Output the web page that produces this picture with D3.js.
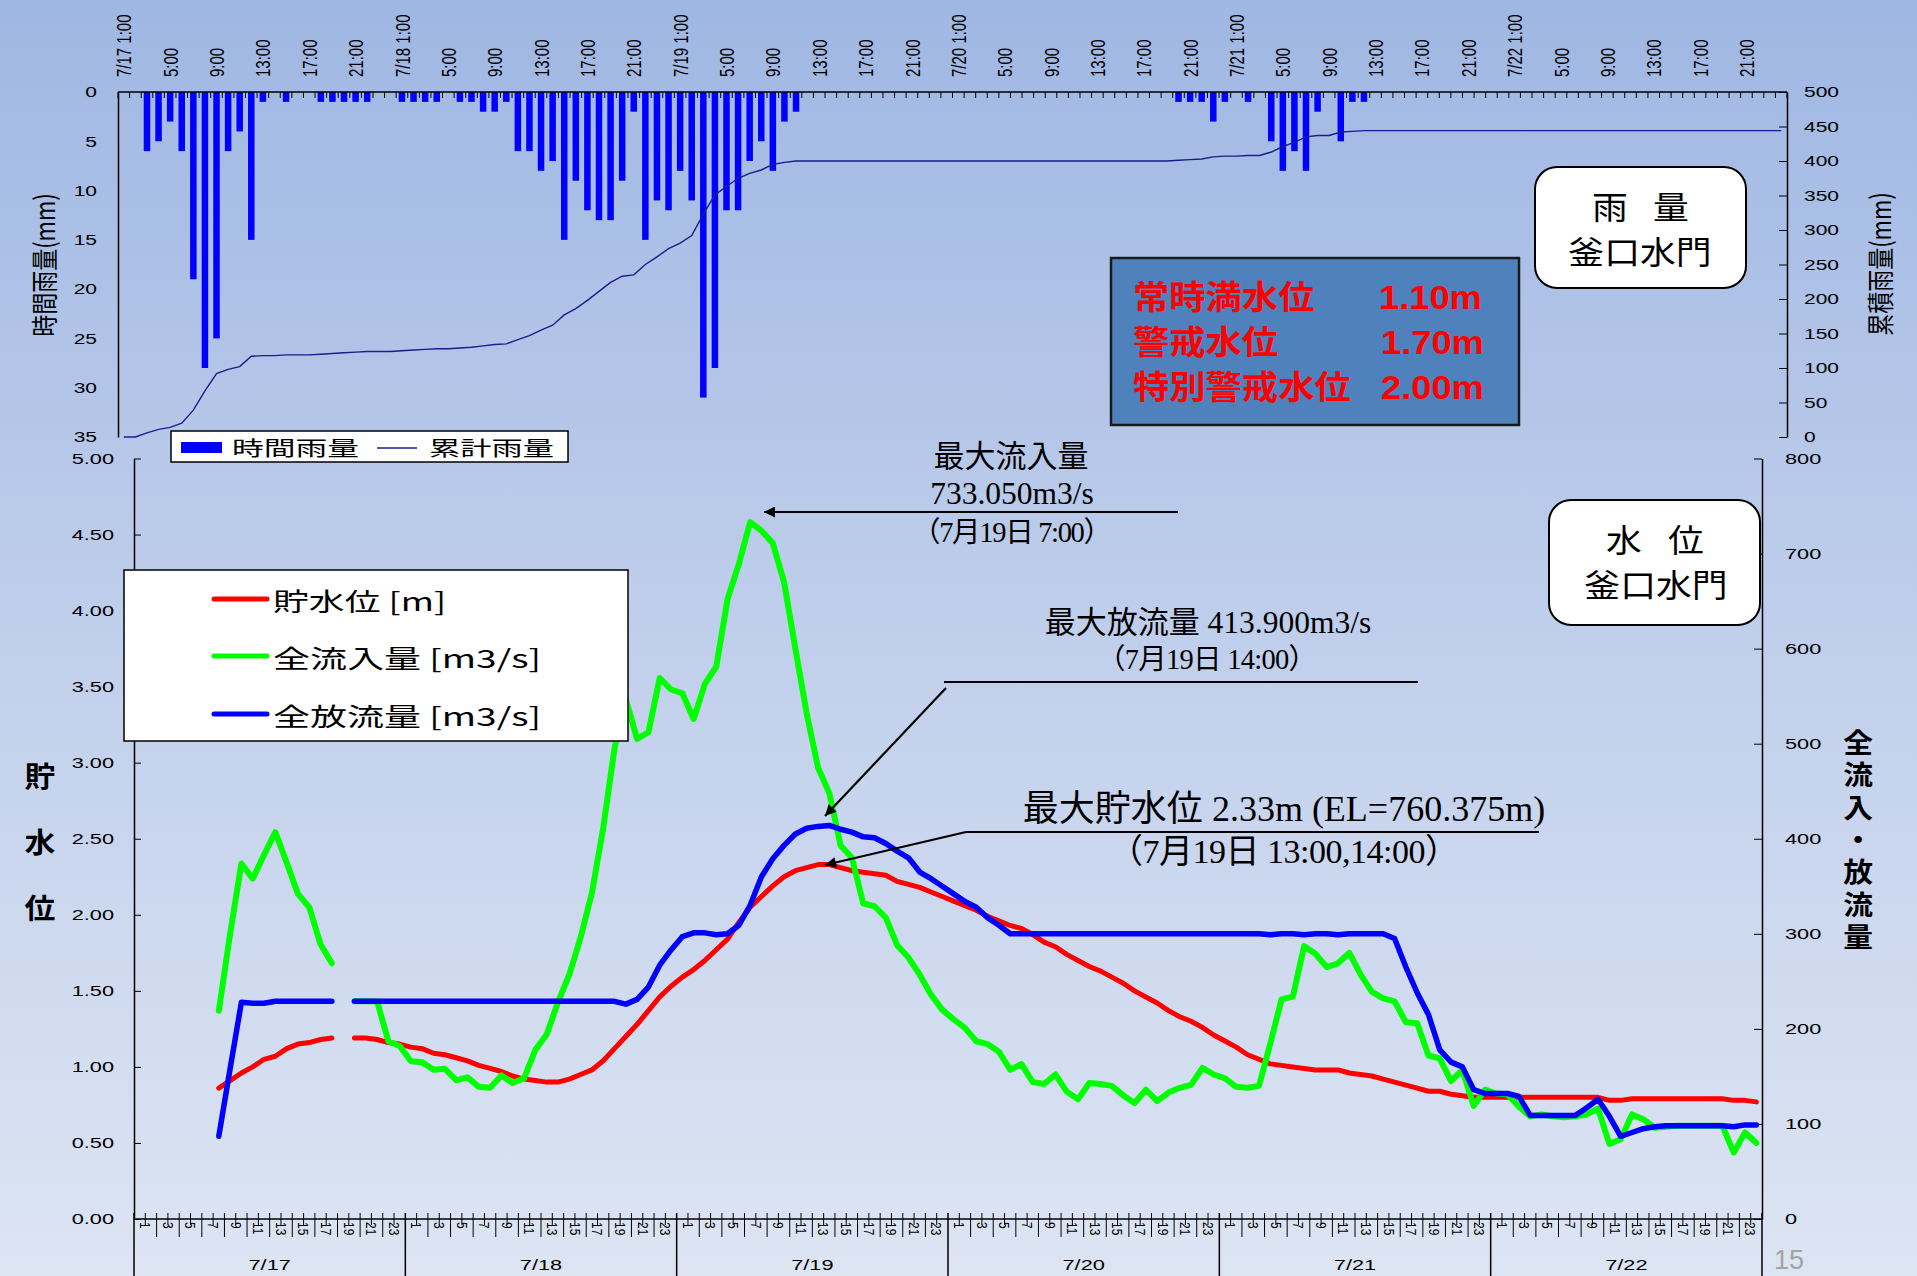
<!DOCTYPE html>
<html>
<head>
<meta charset="utf-8">
<script src="https://cdn.jsdelivr.net/npm/d3@7"></script>
<style>
body { margin: 0; overflow: hidden; }
</style>
</head>
<body>
<div id="chart"></div>
<script>
// svg size
var width = 1917, height = 1276;

// fonts
var JP = "'Noto Sans CJK JP', sans-serif";
var LAT = "'Liberation Sans', Arial, sans-serif";
var SER = "'Liberation Serif', 'Times New Roman', serif";

// hourly data, 7/17 1:00 ... 7/22 24:00 (144 hours)
var days = ["7/17", "7/18", "7/19", "7/20", "7/21", "7/22"];

// 時間雨量 (mm)
var rain = [0,0,6,5,3,6,19,28,25,6,4,15,1,0,1,0,0,1,1,1,1,1,0,0,
            1,1,1,1,0,1,1,2,2,1,6,6,8,7,15,9,12,13,13,9,2,15,11,12,
            8,11,31,28,12,12,7,5,8,3,2,0,0,0,0,0,0,0,0,0,0,0,0,0,
            0,0,0,0,0,0,0,0,0,0,0,0,0,0,0,0,0,0,0,1,1,1,3,1,
            0,1,0,5,8,6,8,2,0,5,1,1,0,0,0,0,0,0,0,0,0,0,0,0,
            0,0,0,0,0,0,0,0,0,0,0,0,0,0,0,0,0,0,0,0,0,0,0,0];

// 累計雨量 (mm)
var rain_total = [0,0,6,11,14,20,39,67,92,98,102,117,118,118,119,119,119,120,121,122,123,124,124,124,
                  125,126,127,128,128,129,130,132,134,135,141,147,155,162,177,186,198,211,224,233,235,250,261,273,
                  281,292,323,351,363,375,382,387,395,398,400,400,400,400,400,400,400,400,400,400,400,400,400,400,
                  400,400,400,400,400,400,400,400,400,400,400,400,400,400,400,400,400,400,400,401,402,403,406,407,
                  407,408,408,413,421,427,435,437,437,442,443,444,444,444,444,444,444,444,444,444,444,444,444,444,
                  444,444,444,444,444,444,444,444,444,444,444,444,444,444,444,444,444,444,444,444,444,444,444,444];

// 貯水位 (m)
var level = [null,null,null,null,null,null,null,0.86,0.91,0.96,1.00,1.05,1.07,1.12,1.15,1.16,1.18,1.19,null,1.19,1.19,1.18,1.16,1.15,
             1.13,1.12,1.09,1.08,1.06,1.04,1.01,0.99,0.97,0.94,0.92,0.91,0.90,0.90,0.92,0.95,0.98,1.04,1.12,1.20,1.28,1.37,1.46,1.53,
             1.59,1.64,1.70,1.77,1.84,1.95,2.05,2.12,2.19,2.25,2.29,2.31,2.33,2.33,2.31,2.29,2.28,2.27,2.26,2.22,2.20,2.18,2.15,2.12,
             2.09,2.06,2.03,1.99,1.96,1.93,1.91,1.87,1.82,1.79,1.74,1.70,1.66,1.63,1.59,1.55,1.50,1.46,1.42,1.37,1.33,1.30,1.26,1.21,
             1.17,1.13,1.08,1.05,1.02,1.01,1.00,0.99,0.98,0.98,0.98,0.96,0.95,0.94,0.92,0.90,0.88,0.86,0.84,0.84,0.82,0.81,0.80,0.80,
             0.80,0.80,0.80,0.80,0.80,0.80,0.80,0.80,0.80,0.80,0.78,0.78,0.79,0.79,0.79,0.79,0.79,0.79,0.79,0.79,0.79,0.78,0.78,0.77];

// 全流入量 (m3/s)
var inflow = [null,null,null,null,null,null,null,219,300,374,358,383,407,375,342,328,289,269,null,229,229,229,187,182,
              166,165,157,158,146,149,139,138,151,143,148,178,194,228,257,296,343,411,495,547,505,512,569,557,
              553,526,563,581,652,689,733,724,711,670,600,532,475,448,393,380,332,329,317,288,275,257,236,220,
              210,201,187,184,176,157,163,144,142,152,134,126,143,142,140,130,122,136,124,133,138,141,159,152,
              148,139,138,140,184,231,234,287,279,265,269,280,257,239,232,229,207,206,172,169,145,157,119,136,
              132,131,118,108,110,108,107,108,110,116,79,84,110,105,96,97,98,98,98,98,98,70,91,80];

// 全放流量 (m3/s)
var outflow = [null,null,null,null,null,null,null,87,158,228,227,227,229,229,229,229,229,229,null,229,229,229,229,229,
               229,229,229,229,229,229,229,229,229,229,229,229,229,229,229,229,229,229,229,226,231,244,267,283,
               297,301,301,299,300,309,330,360,379,393,405,411,413,414,410,407,402,401,395,387,380,365,358,350,
               342,334,328,317,309,300,300,300,300,300,300,300,300,300,300,300,300,300,300,300,300,300,300,300,
               300,300,300,300,299,300,300,299,300,300,299,300,300,300,300,295,265,238,215,178,165,160,136,132,
               132,132,129,109,109,109,109,109,117,126,108,87,91,95,97,98,98,98,98,98,98,97,99,99];

// tick values
var rain_ticks = [0, 5, 10, 15, 20, 25, 30, 35];
var total_ticks = [0, 50, 100, 150, 200, 250, 300, 350, 400, 450, 500];
var level_ticks = [0, 0.5, 1, 1.5, 2, 2.5, 3, 3.5, 4, 4.5, 5];
var flow_ticks = [0, 100, 200, 300, 400, 500, 600, 700, 800];
var hour_labels = [1, 3, 5, 7, 9, 11, 13, 15, 17, 19, 21, 23];


var svg = d3.select("#chart")
            .append("svg")
            .attr("width", width)
            .attr("height", height)
            .style("font-family", LAT);

var defs = svg.append("defs");

var grad = defs.append("linearGradient")
                .attr("id", "bg")
                .attr("x1", 0).attr("y1", 0)
                .attr("x2", 0).attr("y2", 1);
grad.append("stop").attr("offset", "0%").attr("stop-color", "#9fb7e3");
grad.append("stop").attr("offset", "55%").attr("stop-color", "#c3d1ec");
grad.append("stop").attr("offset", "100%").attr("stop-color", "#dde5f3");

defs.append("marker")
    .attr("id", "arrow")
    .attr("viewBox", "0 0 10 10")
    .attr("refX", 10).attr("refY", 5)
    .attr("markerWidth", 17).attr("markerHeight", 11)
    .attr("markerUnits", "userSpaceOnUse")
    .attr("orient", "auto")
        .append("path")
        .attr("d", "M0,0L10,5L0,10z")
        .attr("fill", "#000");

svg.append("rect")
    .attr("width", width)
    .attr("height", height)
    .attr("fill", "url(#bg)");

// scales
var hours = d3.range(rain.length);

var x_top = d3.scaleBand().domain(hours).range([118, 1787]);
var x_bot = d3.scaleBand().domain(hours).range([134, 1762]);

var y_rain = d3.scaleLinear().domain([0, 35]).range([92, 437]);
var y_total = d3.scaleLinear().domain([0, 500]).range([437, 92]);
var y_level = d3.scaleLinear().domain([0, 5]).range([1219, 458.5]);
var y_flow = d3.scaleLinear().domain([0, 800]).range([1219, 458.5]);

function edge(scale, k){
    if (k < hours.length)
        return scale(k);
    else
        return scale.range()[1];
}

function mid(scale, i){
    return scale(i) + scale.bandwidth() / 2;
}

// stretched text helper (the slide is wider than its fonts)
function label(g, x, y, s, size, sx, anchor){
    return g.append("text")
            .attr("transform", "translate(" + x + "," + y + ") scale(" + sx + ",1)")
            .attr("text-anchor", anchor || "start")
            .style("font-size", size + "px")
            .text(s);
}

// vertical (top to bottom) text, one element
function vlabel(g, x, y, s, size, spacing){
    return g.append("text")
            .attr("transform", "translate(" + x + "," + y + ") scale(1.1,1)")
            .style("writing-mode", "vertical-rl")
            .style("font-size", size + "px")
            .style("letter-spacing", spacing + "px")
            .text(s);
}

// -----------------------------------------------------------------------------------------------
// rain chart

var top_g = svg.append("g").attr("class", "rain");

top_g.append("g")
    .selectAll("rect")
    .data(rain)
    .enter()
        .append("rect")
        .attr("x", function(d, i){ return x_top(i) + (x_top.bandwidth() - 6.5) / 2; })
        .attr("y", y_rain(0))
        .attr("width", 6.5)
        .attr("height", function(d){ return y_rain(d) - y_rain(0); })
        .attr("fill", "#0000ff");

var line_total = d3.line()
                .x(function(d, i){ return mid(x_top, i); })
                .y(function(d){ return y_total(d); });

top_g.append("path")
    .attr("d", line_total(rain_total))
    .attr("fill", "none")
    .attr("stroke", "#1c1c8c")
    .attr("stroke-width", 1.4);

// top time axis
top_g.append("line")
    .attr("x1", x_top.range()[0]).attr("x2", x_top.range()[1])
    .attr("y1", y_rain(0)).attr("y2", y_rain(0))
    .attr("stroke", "#000").attr("stroke-width", 1.5);

top_g.append("g")
    .selectAll("line")
    .data(d3.range(hours.length + 1))
    .enter()
        .append("line")
        .attr("x1", function(k){ return edge(x_top, k); })
        .attr("x2", function(k){ return edge(x_top, k); })
        .attr("y1", y_rain(0))
        .attr("y2", y_rain(0) + 6)
        .attr("stroke", "#000")
        .attr("stroke-width", 1);

top_g.append("g")
    .selectAll("text")
    .data(hours.filter(function(i){ return i % 4 == 0; }))
    .enter()
        .append("text")
        .attr("transform", function(i){ return "translate(" + mid(x_top, i) + ",77) scale(1.4,1) rotate(-90)"; })
        .attr("dy", "0.36em")
        .style("font-size", "15px")
        .text(function(i){
            if (i % 24 == 0)
                return days[i / 24] + " 1:00";
            else
                return (i % 24 + 1) + ":00";
        });

// rain axes
var ax_rain = top_g.append("g")
                .attr("transform", "translate(" + x_top.range()[0] + ",0)")
                .call(d3.axisLeft(y_rain).tickValues(rain_ticks).tickSize(0));
ax_rain.select(".domain").attr("stroke-width", 1.5);
ax_rain.selectAll("text")
    .attr("x", null)
    .attr("transform", "translate(-21,0) scale(1.4,1)")
    .style("font-family", LAT)
    .style("font-size", "15px");

var ax_total = top_g.append("g")
                .attr("transform", "translate(" + x_top.range()[1] + ",0)")
                .call(d3.axisRight(y_total).tickValues(total_ticks).tickSizeInner(-8).tickSizeOuter(0));
ax_total.select(".domain").attr("stroke-width", 1.5);
ax_total.selectAll("text")
    .attr("x", null)
    .attr("transform", "translate(17,0) scale(1.4,1)")
    .style("font-family", LAT)
    .style("font-size", "15px");

top_g.append("text")
    .attr("transform", "translate(45,265) scale(1.25,1) rotate(-90)")
    .attr("text-anchor", "middle")
    .attr("dy", "0.36em")
    .style("font-family", JP)
    .style("font-size", "22px")
    .text("時間雨量(mm)");

top_g.append("text")
    .attr("transform", "translate(1881,264) scale(1.25,1) rotate(-90)")
    .attr("text-anchor", "middle")
    .attr("dy", "0.36em")
    .style("font-family", JP)
    .style("font-size", "22px")
    .text("累積雨量(mm)");

// rain legend
var leg_top = top_g.append("g").style("font-family", JP);
leg_top.append("rect")
    .attr("x", 171).attr("y", 431).attr("width", 397).attr("height", 31)
    .attr("fill", "#fff").attr("stroke", "#000").attr("stroke-width", 1.5);
leg_top.append("rect")
    .attr("x", 181).attr("y", 442).attr("width", 41).attr("height", 11)
    .attr("fill", "#0000ff");
leg_top.append("text")
    .attr("x", 232).attr("y", 456)
    .attr("textLength", 127).attr("lengthAdjust", "spacingAndGlyphs")
    .style("font-size", "20px")
    .text("時間雨量");
leg_top.append("line")
    .attr("x1", 377).attr("x2", 417).attr("y1", 448).attr("y2", 448)
    .attr("stroke", "#1c1c8c").attr("stroke-width", 1.4);
leg_top.append("text")
    .attr("x", 429).attr("y", 456)
    .attr("textLength", 125).attr("lengthAdjust", "spacingAndGlyphs")
    .style("font-size", "20px")
    .text("累計雨量");

// water level box
var info = top_g.append("g").style("font-family", JP).style("font-weight", "bold").attr("fill", "#ff0000");
info.append("rect")
    .attr("x", 1111).attr("y", 258).attr("width", 408).attr("height", 167)
    .attr("fill", "#4f81bd").attr("stroke", "#1a1a1a").attr("stroke-width", 2.5);
label(info, 1133, 309, "常時満水位", 33, 1.1);
label(info, 1133, 354, "警戒水位", 33, 1.1);
label(info, 1133, 399, "特別警戒水位", 33, 1.1);
label(info, 1379, 309, "1.10m", 33, 1.1).style("font-family", LAT);
label(info, 1381, 354, "1.70m", 33, 1.1).style("font-family", LAT);
label(info, 1381, 399, "2.00m", 33, 1.1).style("font-family", LAT);

// title box - rain
var tb1 = top_g.append("g").style("font-family", JP);
tb1.append("rect")
    .attr("x", 1535).attr("y", 167).attr("width", 211).attr("height", 121).attr("rx", 22)
    .attr("fill", "#fff").attr("stroke", "#000").attr("stroke-width", 2);
label(tb1, 1610, 219, "雨", 32, 1.12, "middle");
label(tb1, 1671, 219, "量", 32, 1.12, "middle");
label(tb1, 1640, 264, "釜口水門", 32, 1.12, "middle");

// -----------------------------------------------------------------------------------------------
// water level / flow chart

var bot_g = svg.append("g").attr("class", "flow");

var ax_level = bot_g.append("g")
                .attr("transform", "translate(" + x_bot.range()[0] + ",0)")
                .call(d3.axisLeft(y_level).tickValues(level_ticks).tickFormat(d3.format(".2f"))
                        .tickSizeInner(-7).tickSizeOuter(0));
ax_level.select(".domain").attr("stroke-width", 1.5);
ax_level.selectAll("text")
    .attr("x", null)
    .attr("transform", "translate(-20,0) scale(1.45,1)")
    .style("font-family", LAT)
    .style("font-size", "15px");

var ax_flow = bot_g.append("g")
                .attr("transform", "translate(" + x_bot.range()[1] + ",0)")
                .call(d3.axisRight(y_flow).tickValues(flow_ticks).tickSizeInner(-8).tickSizeOuter(0));
ax_flow.select(".domain").attr("stroke-width", 1.5);
ax_flow.selectAll("text")
    .attr("x", null)
    .attr("transform", "translate(23,0) scale(1.45,1)")
    .style("font-family", LAT)
    .style("font-size", "15px");

// time axis
bot_g.append("line")
    .attr("x1", x_bot.range()[0]).attr("x2", x_bot.range()[1])
    .attr("y1", y_level(0)).attr("y2", y_level(0))
    .attr("stroke", "#000").attr("stroke-width", 1.5);

bot_g.append("g")
    .selectAll("line")
    .data(d3.range(hours.length + 1))
    .enter()
        .append("line")
        .attr("x1", function(k){ return edge(x_bot, k); })
        .attr("x2", function(k){ return edge(x_bot, k); })
        .attr("y1", y_level(0) - 6)
        .attr("y2", function(k){
            if (k % 24 == 0)
                return height;
            else if (k % 2 == 0)
                return y_level(0) + 18;
            else
                return y_level(0) + 6;
        })
        .attr("stroke", "#000")
        .attr("stroke-width", function(k){ return k % 24 == 0 ? 1.5 : 1; });

var hour_g = bot_g.append("g").style("font-size", "12px");
days.forEach(function(day, d){
    hour_labels.forEach(function(h){
        hour_g.append("text")
            .attr("transform", "translate(" + edge(x_bot, d * 24 + h) + "," + (y_level(0) + 3) + ") scale(1.2,1) rotate(90)")
            .attr("dy", "0.36em")
            .text(h);
    });
    label(bot_g, (edge(x_bot, d * 24) + edge(x_bot, d * 24 + 24)) / 2, 1270, day, 14.5, 1.5, "middle");
});

// series
var line_level = d3.line()
                .defined(function(d){ return d !== null; })
                .x(function(d, i){ return mid(x_bot, i); })
                .y(function(d){ return y_level(d); });

var line_flow = d3.line()
                .defined(function(d){ return d !== null; })
                .x(function(d, i){ return mid(x_bot, i); })
                .y(function(d){ return y_flow(d); });

bot_g.append("path")
    .attr("d", line_level(level))
    .attr("fill", "none").attr("stroke", "#ff0000").attr("stroke-width", 5)
    .attr("stroke-linejoin", "round").attr("stroke-linecap", "round");

bot_g.append("path")
    .attr("d", line_flow(inflow))
    .attr("fill", "none").attr("stroke", "#00ff00").attr("stroke-width", 6)
    .attr("stroke-linejoin", "round").attr("stroke-linecap", "round");

bot_g.append("path")
    .attr("d", line_flow(outflow))
    .attr("fill", "none").attr("stroke", "#0000ff").attr("stroke-width", 5.5)
    .attr("stroke-linejoin", "round").attr("stroke-linecap", "round");

// axis titles
var lt = bot_g.append("g").style("font-family", JP).style("font-weight", "bold");
vlabel(lt, 40, 762, "貯水位", 28, 38);
vlabel(lt, 1858, 729, "全流入・放流量", 27, 5.4);

// legend
var leg = bot_g.append("g").style("font-family", JP);
leg.append("rect")
    .attr("x", 124).attr("y", 570).attr("width", 504).attr("height", 171)
    .attr("fill", "#fff").attr("stroke", "#000").attr("stroke-width", 1.5);

var leg_items = [
    {name: "貯水位 [m]", color: "#ff0000", y: 599, w: 173},
    {name: "全流入量 [m3/s]", color: "#00ff00", y: 656, w: 268},
    {name: "全放流量 [m3/s]", color: "#0000ff", y: 714, w: 268}
];
leg_items.forEach(function(d){
    leg.append("line")
        .attr("x1", 214).attr("x2", 267).attr("y1", d.y).attr("y2", d.y)
        .attr("stroke", d.color).attr("stroke-width", 5).attr("stroke-linecap", "round");
    leg.append("text")
        .attr("x", 273).attr("y", d.y + 12)
        .attr("textLength", d.w).attr("lengthAdjust", "spacingAndGlyphs")
        .style("font-size", "25px")
        .text(d.name);
});

// title box - water level
var tb2 = bot_g.append("g").style("font-family", JP);
tb2.append("rect")
    .attr("x", 1549).attr("y", 500).attr("width", 211).attr("height", 125).attr("rx", 22)
    .attr("fill", "#fff").attr("stroke", "#000").attr("stroke-width", 2);
label(tb2, 1624, 552, "水", 32, 1.12, "middle");
label(tb2, 1686, 552, "位", 32, 1.12, "middle");
label(tb2, 1656, 597, "釜口水門", 32, 1.12, "middle");

// annotations
var ann = bot_g.append("g");

ann.append("text").attr("x", 1011).attr("y", 467).attr("text-anchor", "middle")
    .style("font-family", JP).style("font-size", "31px").text("最大流入量");
ann.append("text").attr("x", 1012).attr("y", 504).attr("text-anchor", "middle")
    .style("font-family", SER).style("font-size", "31.5px").text("733.050m3/s");
ann.append("text").attr("x", 1012).attr("y", 542).attr("text-anchor", "middle")
    .attr("textLength", 200).attr("lengthAdjust", "spacing")
    .style("font-family", SER + "," + JP).style("font-size", "28.5px").text("（7月19日 7:00）");

var t2 = ann.append("text").attr("x", 1208).attr("y", 633).attr("text-anchor", "middle");
t2.append("tspan").style("font-family", JP).style("font-size", "31px").text("最大放流量");
t2.append("tspan").style("font-family", SER).style("font-size", "31.5px").text(" 413.900m3/s");
ann.append("text").attr("x", 1207).attr("y", 669).attr("text-anchor", "middle")
    .attr("textLength", 220).attr("lengthAdjust", "spacing")
    .style("font-family", SER + "," + JP).style("font-size", "28.5px").text("（7月19日 14:00）");

var t3 = ann.append("text").attr("x", 1284).attr("y", 821).attr("text-anchor", "middle");
t3.append("tspan").style("font-family", JP).style("font-size", "36px").text("最大貯水位");
t3.append("tspan").style("font-family", SER).style("font-size", "36px").text(" 2.33m (EL=760.375m)");
ann.append("text").attr("x", 1284).attr("y", 863).attr("text-anchor", "middle")
    .attr("textLength", 350).attr("lengthAdjust", "spacing")
    .style("font-family", SER + "," + JP).style("font-size", "34px").text("（7月19日 13:00,14:00）");

var ann_lines = [
    {x1: 1178, y1: 512, x2: 764, y2: 512, arrow: true},
    {x1: 944, y1: 682, x2: 1418, y2: 682, arrow: false},
    {x1: 946, y1: 688, x2: 825, y2: 816, arrow: true},
    {x1: 966, y1: 832, x2: 1539, y2: 832, arrow: false},
    {x1: 966, y1: 832, x2: 825, y2: 865, arrow: true}
];
ann.selectAll("line")
    .data(ann_lines)
    .enter()
        .append("line")
        .attr("x1", function(d){ return d.x1; })
        .attr("y1", function(d){ return d.y1; })
        .attr("x2", function(d){ return d.x2; })
        .attr("y2", function(d){ return d.y2; })
        .attr("stroke", "#000")
        .attr("stroke-width", 2.2)
        .attr("marker-end", function(d){ return d.arrow ? "url(#arrow)" : null; });

// page number
svg.append("text")
    .attr("x", 1774).attr("y", 1269)
    .attr("fill", "#a3a3a3")
    .style("font-size", "27px")
    .text("15");
</script>
</body>
</html>
